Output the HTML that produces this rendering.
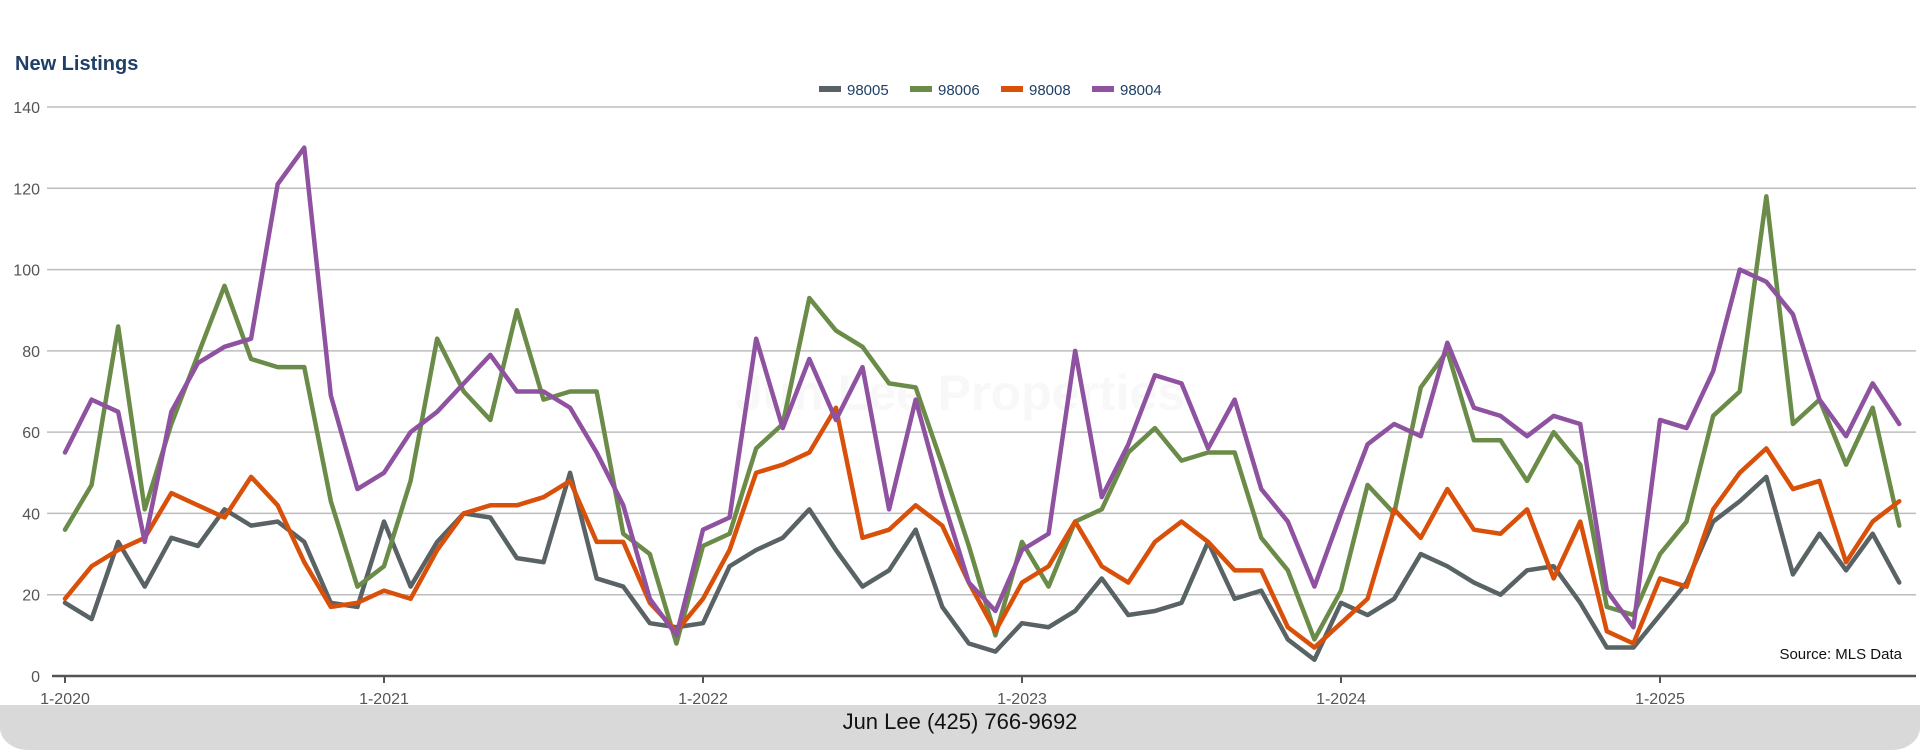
<!DOCTYPE html>
<html><head><meta charset="utf-8"><style>
body{margin:0;width:1920px;height:750px;background:#fff;overflow:hidden;font-family:"Liberation Sans",sans-serif}
</style></head><body>
<svg id="chart" width="1920" height="750" xmlns="http://www.w3.org/2000/svg" font-family="Liberation Sans, sans-serif">
<rect x="0" y="705" width="1920" height="45" rx="28" fill="#d9d9d9"/>
<rect x="0" y="705" width="1920" height="20" fill="#d9d9d9"/>
<text x="15" y="70" font-size="20" font-weight="bold" fill="#1f3f66">New Listings</text>
<text x="960" y="410" font-size="50" font-weight="bold" fill="#f8f8f8" text-anchor="middle">Jun Lee Properties</text>
<g id="grid"></g><g id="lines"></g><g id="legend"></g>
<text x="1902" y="659" font-size="15" fill="#111" text-anchor="end">Source: MLS Data</text>
<text x="960" y="729" font-size="22" fill="#111" text-anchor="middle">Jun Lee (425) 766-9692</text>
</svg>
<script>
const yTicks=[0,20,40,60,80,100,120,140];
const xTickLabels=["1-2020","1-2021","1-2022","1-2023","1-2024","1-2025"];
const seriesNames=["98005","98006","98008","98004"];
const s98005=[18,14,33,22,34,32,41,37,38,33,18,17,38,22,33,40,39,29,28,50,24,22,13,12,13,27,31,34,41,31,22,26,36,17,8,6,13,12,16,24,15,16,18,33,19,21,9,4,18,15,19,30,27,23,20,26,27,18,7,7,15,23,38,43,49,25,35,26,35,23];
const s98006=[36,47,86,41,62,79,96,78,76,76,43,22,27,48,83,70,63,90,68,70,70,35,30,8,32,35,56,62,93,85,81,72,71,52,32,10,33,22,38,41,55,61,53,55,55,34,26,9,21,47,40,71,80,58,58,48,60,52,17,15,30,38,64,70,118,62,68,52,66,37];
const s98008=[19,27,31,34,45,42,39,49,42,28,17,18,21,19,31,40,42,42,44,48,33,33,18,11,19,31,50,52,55,66,34,36,42,37,23,11,23,27,38,27,23,33,38,33,26,26,12,7,13,19,41,34,46,36,35,41,24,38,11,8,24,22,41,50,56,46,48,28,38,43];
const s98004=[55,68,65,33,65,77,81,83,121,130,69,46,50,60,65,72,79,70,70,66,55,42,19,10,36,39,83,61,78,63,76,41,68,44,23,16,31,35,80,44,57,74,72,56,68,46,38,22,40,57,62,59,82,66,64,59,64,62,21,12,63,61,75,100,97,89,68,59,72,62];
const colors=["#596264","#6a8c48","#d9500a","#8e52a0"];
const allSeries=[s98005,s98006,s98008,s98004];
const NS="http://www.w3.org/2000/svg";
const x0=65,x1=1660,y0=676,y1=107;
const xs=i=>x0+i*(x1-x0)/60;
const ys=v=>y0-v*(y0-y1)/140;
function mk(tag,attrs,parent){const e=document.createElementNS(NS,tag);for(const k in attrs)e.setAttribute(k,attrs[k]);parent.appendChild(e);return e;}
const grid=document.getElementById('grid');
yTicks.forEach(t=>{
  if(t>0){const l=mk('line',{x1:47,x2:1916,y1:ys(t),y2:ys(t),stroke:'#bdbdbd','stroke-width':1.5},grid);
  
  }
  const tx=mk('text',{x:40,y:ys(t)+6,'font-size':16,fill:'#555','text-anchor':'end'},grid);tx.textContent=t;
  
  
});
const ax=mk('line',{x1:52,x2:1916,y1:y0,y2:y0,stroke:'#555','stroke-width':2.5},grid);


xTickLabels.forEach((lab,k)=>{
  const x=xs(k*12);
  mk('line',{x1:x,x2:x,y1:y0,y2:y0+7,stroke:'#555','stroke-width':2},grid);
  const tx=mk('text',{x:x,y:704,'font-size':16,fill:'#555','text-anchor':'middle'},grid);tx.textContent=lab;
  
  
});
const lines=document.getElementById('lines');
allSeries.forEach((s,k)=>{
  const p=mk('polyline',{points:s.map((v,i)=>xs(i)+','+ys(v)).join(' '),fill:'none',stroke:colors[k],'stroke-width':4.5,'stroke-linejoin':'round','stroke-linecap':'round'},lines);
  
  
});
const leg=document.getElementById('legend');
let lx=819;
seriesNames.forEach((n,k)=>{
  const g=mk('g',{},leg);
  
  
  mk('rect',{x:lx,y:86,width:22,height:6,fill:colors[k]},g);
  const t=mk('text',{x:lx+28,y:95,'font-size':15,fill:'#1f3f66'},g);t.textContent=n;
  lx+=91;
});
</script>
</body></html>
